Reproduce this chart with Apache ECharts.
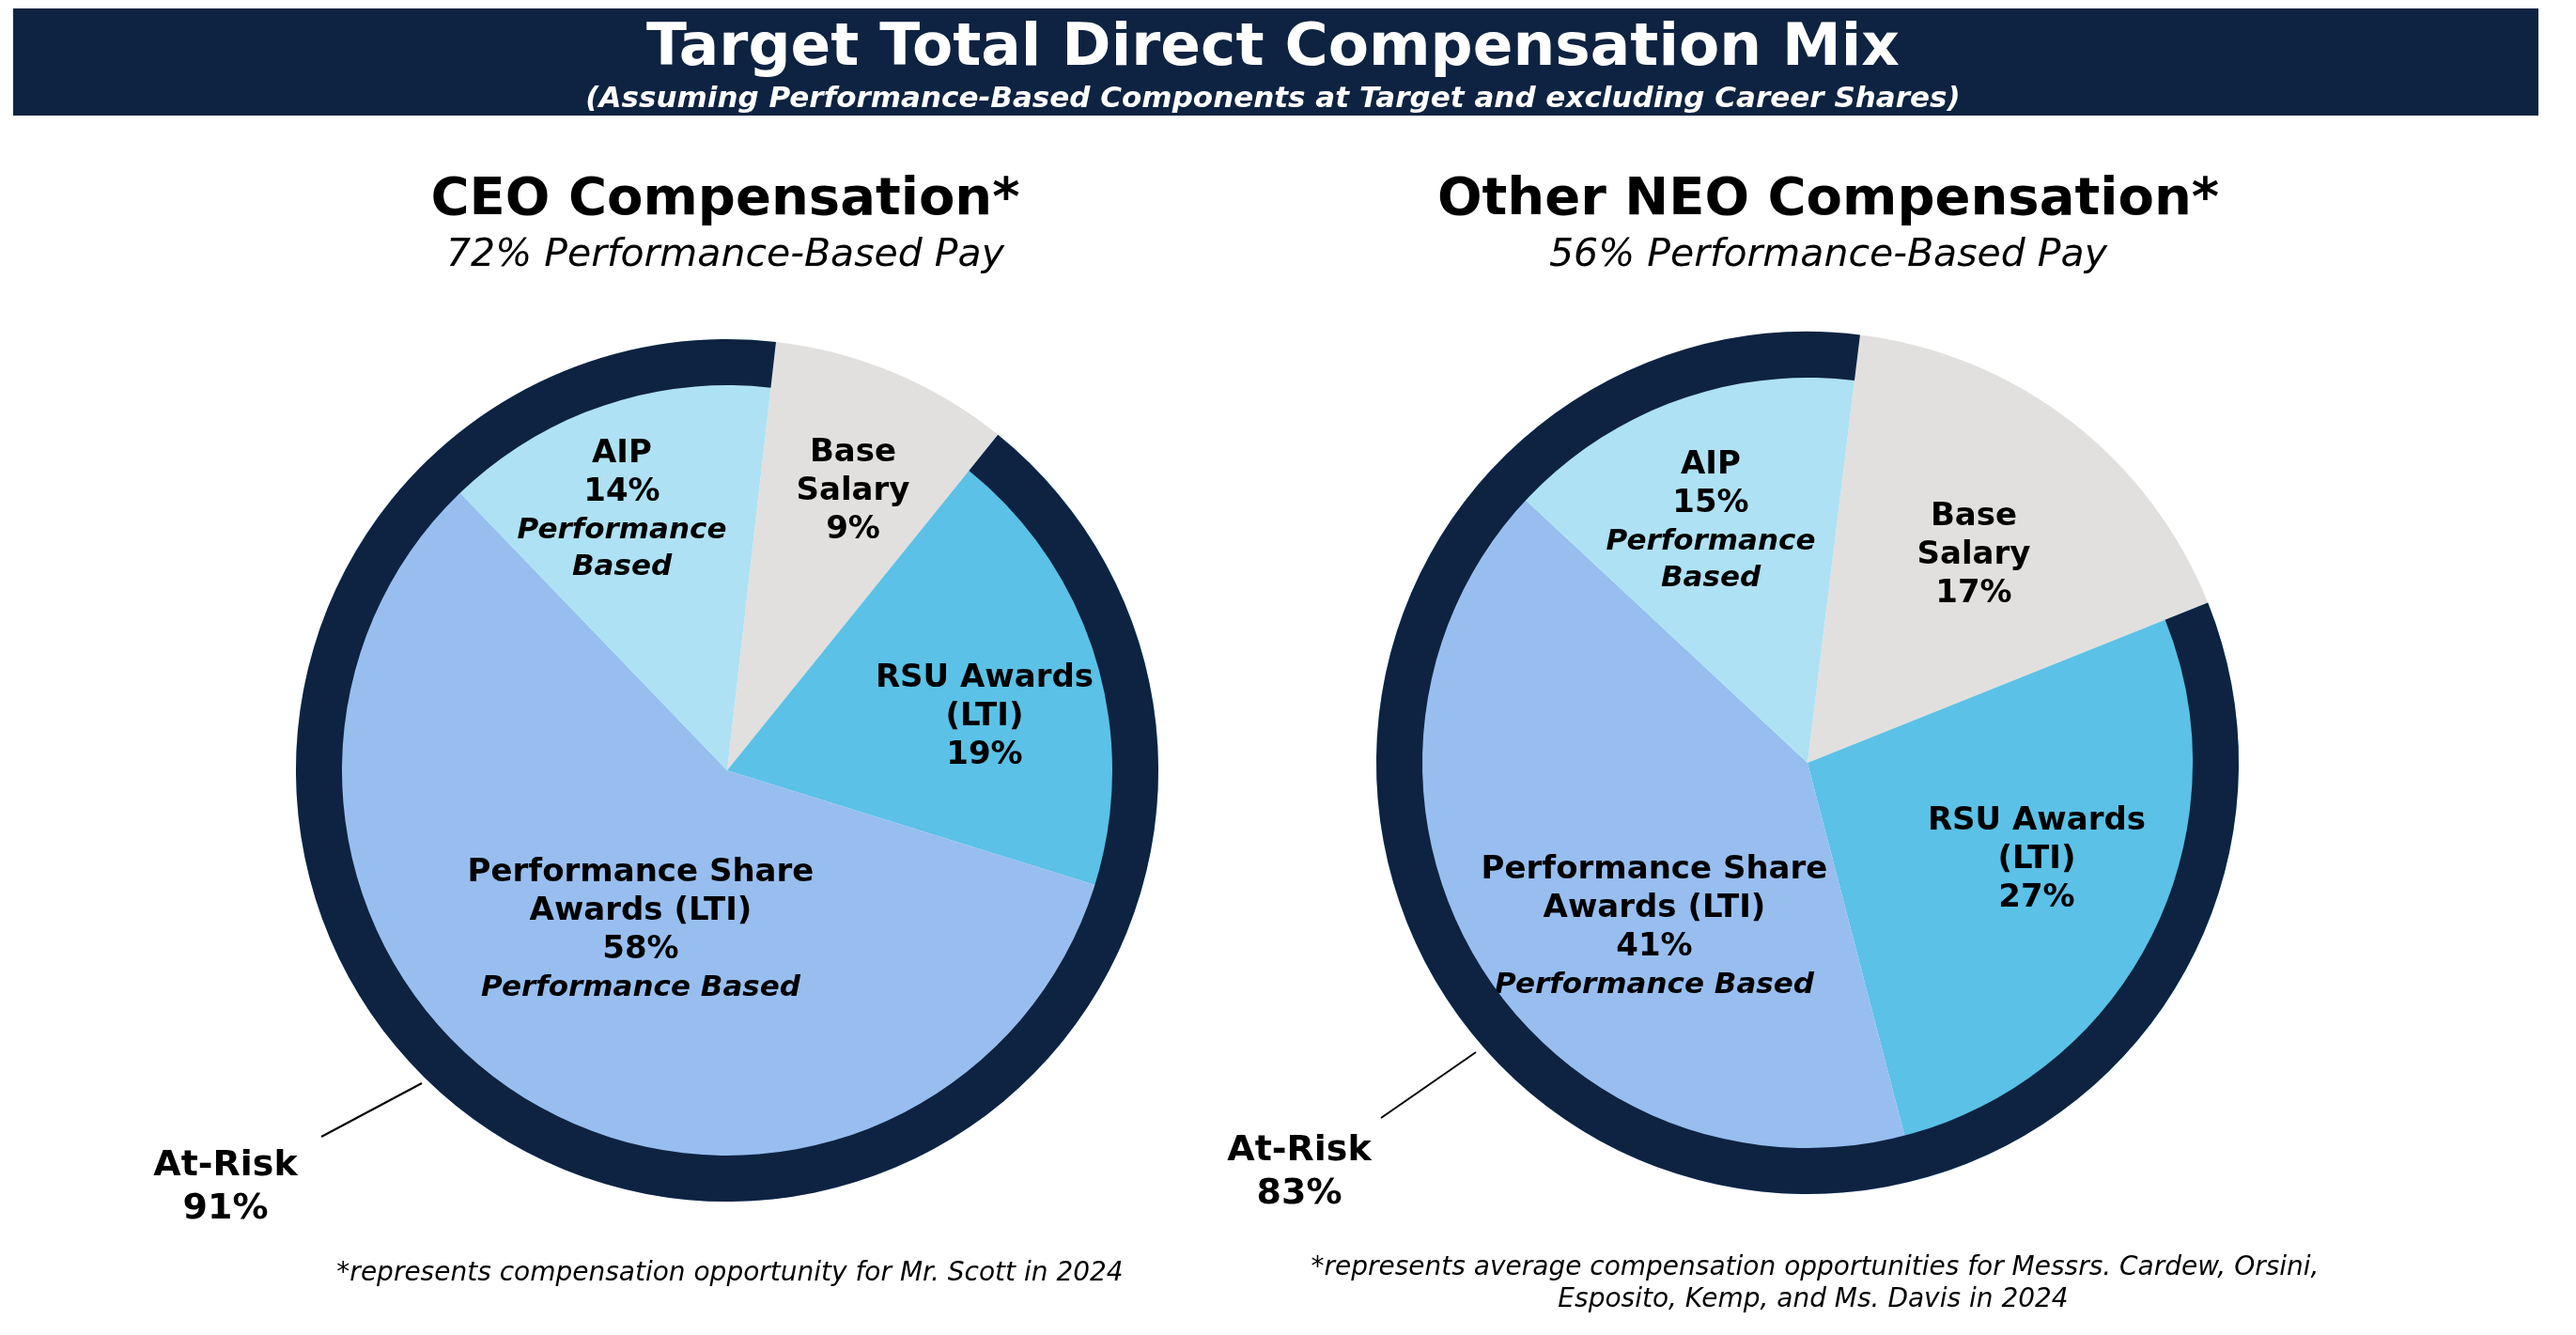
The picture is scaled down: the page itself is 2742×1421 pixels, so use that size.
<!DOCTYPE html>
<html>
<head>
<meta charset="utf-8">
<title>Target Total Direct Compensation Mix</title>
<script src="https://cdn.jsdelivr.net/npm/echarts@6/dist/echarts.min.js"></script>
<style>
html,body{margin:0;padding:0;background:#fff;}
#chart{width:2742px;height:1421px;}
</style>
</head>
<body>
<div id="chart"></div>
<script>
// data
var categories = ['Base Salary', 'RSU Awards (LTI)', 'Performance Share Awards (LTI)', 'AIP'];
var ceoValues = [9, 19, 58, 14];
var neoValues = [17, 27, 41, 15];
var atRiskValues = [91, 83];
var perfBasedPay = [72, 56];
var panelTitles = ['CEO Compensation*', 'Other NEO Compensation*'];
var mainTitle = 'Target Total Direct Compensation Mix';
var mainSub = '(Assuming Performance-Based Components at Target and excluding Career Shares)';
var footnotes = [
	['*represents compensation opportunity for Mr. Scott in 2024'],
	['*represents average compensation opportunities for Messrs. Cardew, Orsini,', 'Esposito, Kemp, and Ms. Davis in 2024']
];
// label text split per slice (same order as categories)
var labelHead = [['Base', 'Salary'], ['RSU Awards', '(LTI)'], ['Performance Share', 'Awards (LTI)'], ['AIP']];
var labelNote = [[], [], ['Performance Based'], ['Performance', 'Based']];

var colors = ['#E1E0DE', '#5BC1E6', '#97BEEF', '#AEE1F3'];
var navy = '#0E2341';
var font = '"DejaVu Sans", Verdana, sans-serif';

// layout
var centers = [[774, 820], [1924, 812]];
var startAngles = [83.5, 83];
var outerR = 459, ringR = 410;
// label offsets from the pie centre
var labelOffsets = [
	[[134, -297], [274, -57], [-92, 170], [-112, -277]],
	[[177, -221], [244, 103], [-163, 175], [-103, -257]]
];
var riskSpots = [[240, 1264], [1383, 1248]];
var leaders = [[342, 1210, 449, 1153], [1470, 1190, 1571, 1120]];

var chart = echarts.init(document.getElementById('chart'), null, {renderer: 'canvas'});

function sliceLabel(i, v){
	var out = [];
	for(var k=0;k<labelHead[i].length;k++){ out.push('{b|' + labelHead[i][k] + '}'); }
	out.push('{b|' + v + '%}');
	for(var k=0;k<labelNote[i].length;k++){ out.push('{i|' + labelNote[i][k] + '}'); }
	return out.join('\n');
}

function makePie(idx, values){
	var c = centers[idx];
	var data = [];
	for(var i=0;i<categories.length;i++){
		data.push({name: categories[i], value: values[i], itemStyle: {color: colors[i]}});
	}
	return {
		type: 'pie',
		center: c,
		radius: [0, outerR],
		startAngle: startAngles[idx],
		clockwise: true,
		avoidLabelOverlap: false,
		silent: true,
		data: data,
		label: {
			show: true,
			position: 'inner',
			formatter: function(p){ return sliceLabel(p.dataIndex, p.value); },
			rich: {
				b: {fontFamily: font, fontWeight: 'bold', fontSize: 34, lineHeight: 41, color: '#000'},
				i: {fontFamily: font, fontWeight: 'bold', fontStyle: 'italic', fontSize: 31, lineHeight: 39, color: '#000'}
			}
		},
		labelLine: {show: false},
		labelLayout: function(p){
			var o = labelOffsets[idx][p.dataIndex];
			return {x: c[0] + o[0], y: c[1] + o[1]};
		}
	};
}

function makeRing(idx, values){
	var c = centers[idx];
	var risk = atRiskValues[idx];
	return {
		type: 'pie',
		center: c,
		radius: [ringR, outerR],
		startAngle: startAngles[idx],
		clockwise: true,
		avoidLabelOverlap: false,
		silent: true,
		z: 3,
		data: [
			{name: categories[0], value: values[0], itemStyle: {color: 'rgba(0,0,0,0)'}, label: {show: false}},
			{name: 'At-Risk', value: risk, itemStyle: {color: navy}}
		],
		label: {
			show: true,
			position: 'inner',
			formatter: '{a|{b}}\n{a|{c}%}',
			rich: {
				a: {fontFamily: font, fontWeight: 'bold', fontSize: 38, lineHeight: 46, color: '#000'}
			}
		},
		labelLine: {show: false},
		labelLayout: function(p){
			return {x: riskSpots[idx][0], y: riskSpots[idx][1], align: 'center', verticalAlign: 'middle'};
		}
	};
}

function txt(x, y, s, f, color){
	return {type: 'text', x: x, y: y, z: 10,
		style: {text: s, font: f, fill: color || '#000', align: 'center', verticalAlign: 'middle'}};
}

var graphics = [
	{type: 'rect', shape: {x: 14, y: 9, width: 2688, height: 114}, style: {fill: navy}, z: 1},
	txt(1355, 53, mainTitle, 'bold 63px ' + font, '#fff'),
	txt(1355, 106, mainSub, 'italic bold 31px ' + font, '#fff'),
	txt(772, 213, panelTitles[0], 'bold 56px ' + font),
	txt(772, 272, perfBasedPay[0] + '% Performance-Based Pay', 'italic 41px ' + font),
	txt(1946, 213, panelTitles[1], 'bold 56px ' + font),
	txt(1946, 272, perfBasedPay[1] + '% Performance-Based Pay', 'italic 41px ' + font),
	txt(777, 1356, footnotes[0][0], 'italic 28px ' + font),
	txt(1932, 1350, footnotes[1][0], 'italic 28px ' + font),
	txt(1930, 1384, footnotes[1][1], 'italic 28px ' + font)
];
for(var i=0;i<leaders.length;i++){
	var l = leaders[i];
	graphics.push({type: 'line', shape: {x1: l[0], y1: l[1], x2: l[2], y2: l[3]}, style: {stroke: '#000', lineWidth: 2}, z: 10});
}

var option = {
	animation: false,
	backgroundColor: '#fff',
	graphic: graphics,
	series: [
		makePie(0, ceoValues),
		makeRing(0, ceoValues),
		makePie(1, neoValues),
		makeRing(1, neoValues)
	]
};
chart.setOption(option);
</script>
</body>
</html>
